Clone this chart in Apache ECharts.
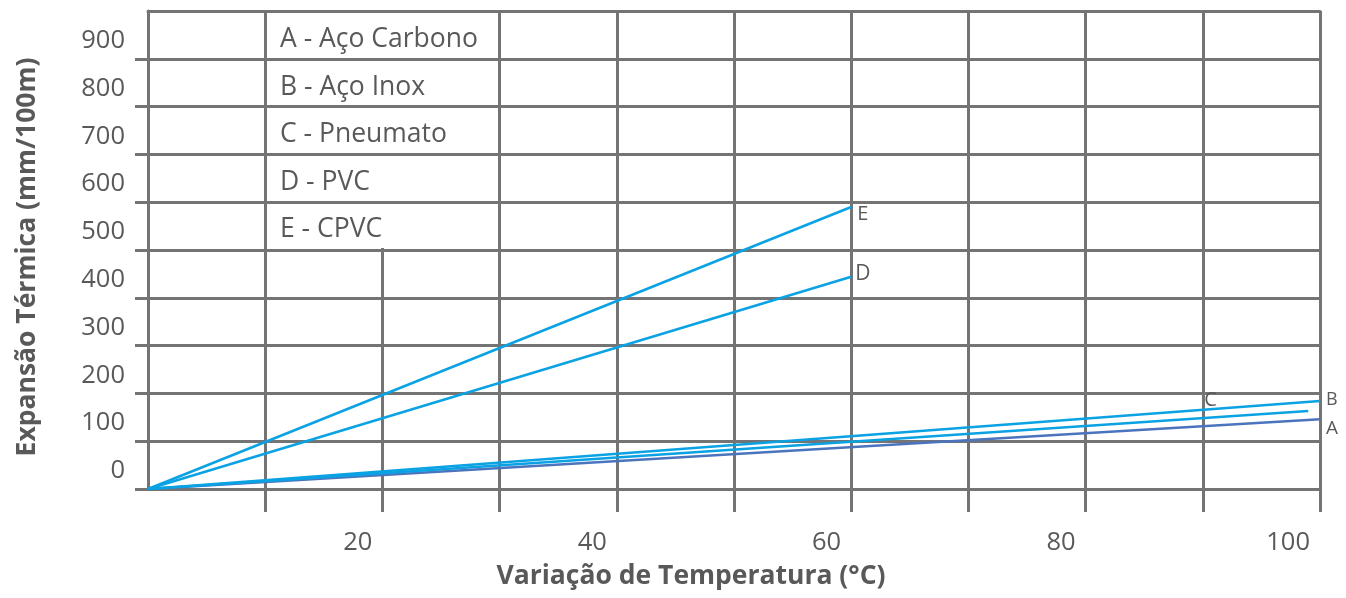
<!DOCTYPE html>
<html>
<head>
<meta charset="utf-8">
<script src="https://cdn.jsdelivr.net/npm/echarts@6/dist/echarts.min.js"></script>
<style>
html,body{margin:0;padding:0;background:#fff;}
#chart{width:1346px;height:598px;}
</style>
</head>
<body>
<div id="chart"></div>
<script>
// ---- data ----
const seriesNames = ['A - Aço Carbono', 'B - Aço Inox', 'C - Pneumato', 'D - PVC', 'E - CPVC'];
const seriesTags = ['A', 'B', 'C', 'D', 'E'];
const seriesA = [[0, 0], [100, 146]];
const seriesB = [[0, 0], [100, 184]];
const seriesC = [[0, 0], [99, 163]];
const seriesD = [[0, 0], [60, 444]];
const seriesE = [[0, 0], [60, 590]];
const xLabelValues = [20, 40, 60, 80, 100];
const yLabelValues = [0, 100, 200, 300, 400, 500, 600, 700, 800, 900];
const xTickValues = [10, 20, 30, 40, 50, 60, 70, 80, 90, 100];

const gridColor = '#747474';
const textColor = '#595959';
const font = 'Open Sans';
const lightBlue = '#0AA2E3';
const darkBlue = '#4A74BD';

// tag label styling (offset from each line's last point, in px, and font size)
const tagStyle = [
  {dx: 6, dy: 9, size: 19},
  {dx: 6, dy: -1, size: 18},
  {dx: -104, dy: -11, size: 20},
  {dx: 4, dy: -3, size: 21},
  {dx: 6, dy: 7, size: 20}
];
const allSeries = [seriesA, seriesB, seriesC, seriesD, seriesE];
const colors = [darkBlue, lightBlue, lightBlue, lightBlue, lightBlue];

const chart = echarts.init(document.getElementById('chart'), null, {renderer: 'canvas'});

const option = {
  animation: false,
  backgroundColor: '#fff',
  grid: {left: 148, right: 26, top: 11, bottom: 109, containLabel: false},
  legend: {
    show: true,
    orient: 'vertical',
    left: 275,
    top: 26,
    padding: 0,
    icon: 'none',
    itemWidth: 0,
    itemHeight: 26,
    itemGap: 20.5,
    selectedMode: false,
    data: seriesNames,
    z: 4,
    textStyle: {color: textColor, fontFamily: font, fontSize: 26.5, lineHeight: 26}
  },
  xAxis: [{
    type: 'value',
    min: 0,
    max: 100,
    interval: 10,
    z: 0,
    name: 'Variação de Temperatura (°C)',
    nameLocation: 'middle',
    nameGap: 74,
    nameTextStyle: {color: textColor, fontFamily: font, fontSize: 26.5, fontWeight: 'bold', padding: [0, 86, 0, 0]},
    axisLine: {show: true, onZero: false, lineStyle: {color: gridColor, width: 3}},
    axisTick: {show: true, inside: false, length: 23, customValues: xTickValues, lineStyle: {color: gridColor, width: 3}},
    splitLine: {show: true, lineStyle: {color: gridColor, width: 3}},
    axisLabel: {
      show: true,
      customValues: xLabelValues,
      formatter: v => (xLabelValues.indexOf(v) >= 0 ? String(v) : ''),
      color: textColor, fontFamily: font, fontSize: 25.5, lineHeight: 26,
      margin: 41, align: 'right', padding: [0, 10, 0, 0]
    }
  }, {
    type: 'value',
    position: 'top',
    min: 0,
    max: 100,
    z: 0,
    axisLine: {show: true, onZero: false, lineStyle: {color: gridColor, width: 3}},
    axisTick: {show: false},
    axisLabel: {show: false},
    splitLine: {show: false}
  }],
  yAxis: {
    type: 'value',
    min: 0,
    max: 1000,
    interval: 100,
    z: 2,
    name: 'Expansão Térmica (mm/100m)',
    nameLocation: 'middle',
    nameGap: 107,
    nameTextStyle: {color: textColor, fontFamily: font, fontSize: 26.5, fontWeight: 'bold', padding: [0, 14, 0, 0]},
    axisLine: {show: true, onZero: false, lineStyle: {color: gridColor, width: 3}},
    axisTick: {show: true, inside: false, length: 13, customValues: yLabelValues, lineStyle: {color: gridColor, width: 3}},
    splitLine: {show: true, lineStyle: {color: gridColor, width: 3}},
    axisLabel: {
      show: true,
      customValues: yLabelValues,
      color: textColor, fontFamily: font, fontSize: 25.5, lineHeight: 26,
      margin: 23, verticalAlign: 'bottom', padding: [0, 0, 5, 0]
    }
  },
  series: allSeries.map((d, i) => ({
    name: seriesNames[i],
    type: 'line',
    data: d,
    symbol: 'none',
    z: 3,
    lineStyle: {color: colors[i], width: 2.5},
    itemStyle: {color: colors[i]},
    emphasis: {disabled: true}
  }))
};

chart.setOption(option);

// white mask hiding the 20 °C grid line behind the legend box (cell spans 10–30 °C, 500–1000)
const p1 = chart.convertToPixel({gridIndex: 0}, [10, 1000]);
const p2 = chart.convertToPixel({gridIndex: 0}, [30, 500]);
const graphics = [{
  type: 'rect',
  z: 1,
  silent: true,
  shape: {x: p1[0] + 2, y: p1[1] + 2, width: p2[0] - p1[0] - 4, height: p2[1] - p1[1] - 4},
  style: {fill: '#fff'}
}];
// letter tags next to each line's last point, placed through the series' scales
allSeries.forEach((d, i) => {
  const end = chart.convertToPixel({seriesIndex: i}, d[d.length - 1]);
  graphics.push({
    type: 'text',
    z: 5,
    silent: true,
    x: end[0] + tagStyle[i].dx,
    y: end[1] + tagStyle[i].dy,
    style: {
      text: seriesTags[i],
      fill: textColor,
      font: tagStyle[i].size + 'px "' + font + '"',
      align: 'left',
      verticalAlign: 'middle'
    }
  });
});
chart.setOption({graphic: graphics});
</script>
</body>
</html>
